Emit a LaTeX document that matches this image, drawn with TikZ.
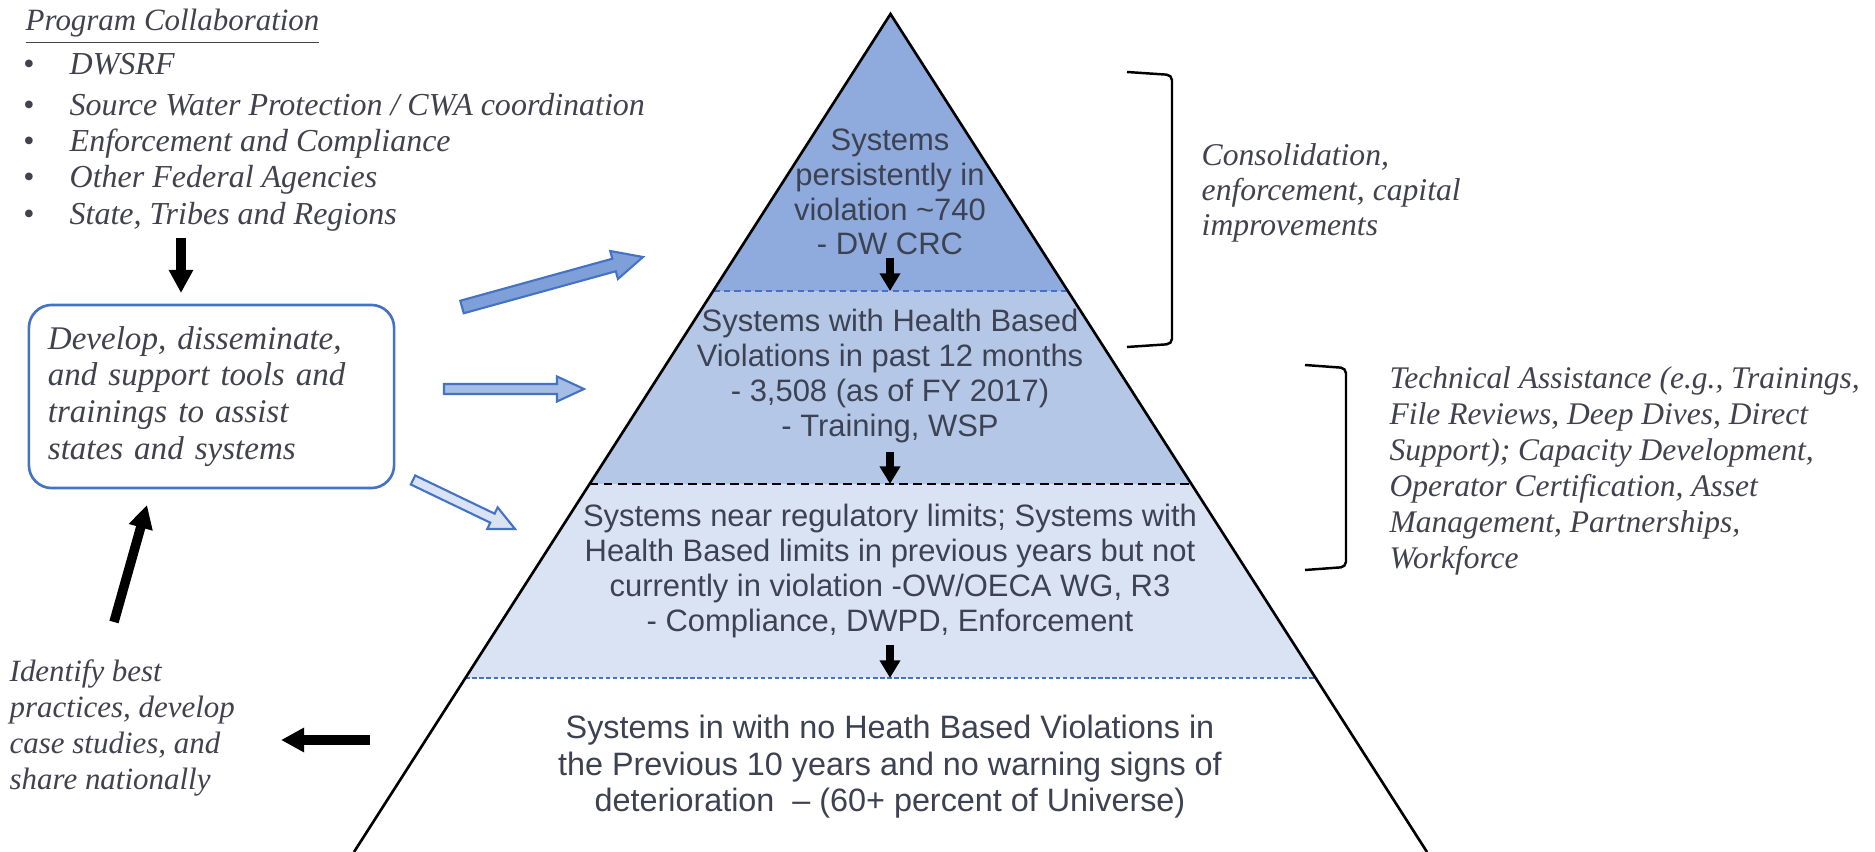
\documentclass[tikz,border=0pt]{standalone}
\usepackage{fontspec}
\usetikzlibrary{arrows.meta,calc}
\newfontfamily\arialf{Liberation Sans}
\newfontfamily\serifit{Liberation Serif}
\definecolor{laya}{RGB}{143,170,220}
\definecolor{layb}{RGB}{180,199,231}
\definecolor{layc}{RGB}{218,227,243}
\definecolor{accblue}{RGB}{68,114,196}
\definecolor{ptxt}{RGB}{61,66,82}
\definecolor{itxt}{RGB}{66,66,78}
\definecolor{arra}{RGB}{127,159,217}
\definecolor{arrb}{RGB}{166,189,230}
\definecolor{arrc}{RGB}{218,227,243}
\newcommand{\blkarr}[6]{%
  \coordinate (#2b) at ($(#3)!#6!(#2)$);
  \draw[#1] ($(#2)!#4!90:(#3)$) -- ($(#2b)!#4!90:(#3)$) -- ($(#2b)!#5!90:(#3)$) -- (#3)
    -- ($(#2b)!#5!-90:(#3)$) -- ($(#2b)!#4!-90:(#3)$) -- ($(#2)!#4!-90:(#3)$) -- cycle;}
\begin{document}
\begin{tikzpicture}[x=0.01cm,y=-0.01cm,
  itx/.style={font=\serifit\fontsize{9.1pt}{10.2pt}\selectfont\itshape, text=itxt, align=left, inner sep=0pt},
  ptx/.style={font=\arialf\fontsize{8.8pt}{9.9pt}\selectfont, text=ptxt, align=center, inner sep=0pt},
  blk/.style={line width=2.7pt, -{Triangle[width=6.6pt,length=6.6pt]}},
  sblk/.style={line width=2.2pt, -{Triangle[width=5.6pt,length=5pt]}},
  pbox/.style={draw=accblue, line width=0.75pt, rounded corners=6.5pt},
  bra/.style={draw=black, line width=0.7pt, rounded corners=1.5pt},
  pyr/.style={draw=black, line width=0.75pt, line join=miter},
  diva/.style={draw=accblue, line width=0.45pt, dash pattern=on 1.8pt off 1.2pt},
  divb/.style={draw=black, line width=0.7pt, dash pattern=on 2.5pt off 1.5pt},
  divc/.style={draw=accblue, line width=0.45pt, dash pattern=on 1.2pt off 0.8pt},
  barra/.style={fill=arra, draw=accblue, line width=0.6pt},
  barrb/.style={fill=arrb, draw=accblue, line width=0.6pt},
  barrc/.style={fill=arrc, draw=accblue, line width=0.6pt}]
\useasboundingbox (0,0) rectangle (1875,852);
\fill[white] (0,0) rectangle (1875,852);

% ---------- pyramid ----------
\coordinate (apex) at (890.5,14);
\coordinate (bl) at (354,852);
\coordinate (br) at (1427,852);
\begin{scope}
  \clip (apex) -- (bl) -- (br) -- cycle;
  \fill[laya] (300,0) rectangle (1500,291);
  \fill[layb] (300,291) rectangle (1500,484);
  \fill[layc] (300,484) rectangle (1500,678);
\end{scope}
\coordinate (d1l) at ($(apex)!0.3305!(bl)$);
\coordinate (d1r) at ($(apex)!0.3305!(br)$);
\coordinate (d2l) at ($(apex)!0.5609!(bl)$);
\coordinate (d2r) at ($(apex)!0.5609!(br)$);
\coordinate (d3l) at ($(apex)!0.7924!(bl)$);
\coordinate (d3r) at ($(apex)!0.7924!(br)$);
\draw[diva] (d1l) -- (d1r);
\draw[divb] (d2l) -- (d2r);
\draw[divc] (d3l) -- (d3r);
\draw[pyr] (bl) -- (apex) -- (br);

\node[ptx] (t1) at (890,192) {Systems\\persistently in\\violation \textasciitilde740\\- DW CRC};
\node[ptx] (t2) at (890,376) {Systems with Health Based\\Violations in past 12 months\\- 3,508 (as of FY 2017)\\- Training, WSP};
\node[ptx] (t3) at (890,571) {Systems near regulatory limits; Systems with\\Health Based limits in previous years but not\\currently in violation -OW/OECA WG, R3\\- Compliance, DWPD, Enforcement};
\node[ptx, font=\arialf\fontsize{9.2pt}{10.35pt}\selectfont] (t4) at (890,767) {Systems in with no Heath Based Violations in\\the Previous 10 years and no warning signs of\\deterioration\ \ – (60+ percent of Universe)};

\coordinate (p1a) at (890,258); \coordinate (p1b) at (890,291);
\coordinate (p2a) at (890,452); \coordinate (p2b) at (890,484);
\coordinate (p3a) at (890,645); \coordinate (p3b) at (890,678);
\draw[sblk] (p1a) -- (p1b);
\draw[sblk] (p2a) -- (p2b);
\draw[sblk] (p3a) -- (p3b);

% ---------- left column ----------
\node[itx, font=\serifit\fontsize{8.8pt}{10.2pt}\selectfont\itshape, anchor=base west] (pc) at (25,31) {\underline{Program Collaboration}};
\foreach \y/\t [count=\i] in {75/{DWSRF},116/{Source Water Protection / CWA coordination},152/{Enforcement and Compliance},188/{Other Federal Agencies},225/{State, Tribes and Regions}}{
  \node[itx, anchor=base] (bu\i) at (29,\y) {\upshape\textbullet};
  \node[itx, anchor=base west] (li\i) at (69,\y) {\t};
}
\node[pbox, text width=3.27cm, minimum width=3.65cm, minimum height=1.83cm, inner sep=0pt,
      font=\serifit\fontsize{9.4pt}{10.5pt}\selectfont\itshape, text=itxt, align=left] (box) at (211.5,396.5)
  {Develop, disseminate,\\and support tools and\\trainings to assist\\states and systems};
\node[itx, font=\serifit\fontsize{8.8pt}{10.2pt}\selectfont\itshape, anchor=west] (ident) at (9,728) {Identify best\\practices, develop\\case studies, and\\share nationally};

\coordinate (da) at (181,238); \coordinate (db) at (181,293);
\coordinate (ua) at (114,622); \coordinate (ub) at (147,505);
\coordinate (la) at (370,740); \coordinate (lb) at (281,740);
\draw[blk] (da) -- (db);
\draw[blk] (ua) -- (ub);
\draw[blk] (la) -- (lb);

% ---------- blue arrows ----------
\coordinate (a1s) at (462,307); \coordinate (a1t) at (643,257);
\coordinate (a2s) at (444,389); \coordinate (a2t) at (584,389);
\coordinate (a3s) at (413,480); \coordinate (a3t) at (515,529);
\blkarr{barra}{a1s}{a1t}{0.065cm}{0.145cm}{0.3cm}
\blkarr{barrb}{a2s}{a2t}{0.05cm}{0.125cm}{0.27cm}
\blkarr{barrc}{a3s}{a3t}{0.05cm}{0.12cm}{0.25cm}

% ---------- right side ----------
\draw[bra] (1127,72) -- (1172,75) -- (1172,344) -- (1127,347);
\draw[bra] (1305,365) -- (1346,368) -- (1346,567) -- (1305,570);
\node[itx, font=\serifit\fontsize{9pt}{9.9pt}\selectfont\itshape, anchor=west] (cons) at (1201,193)
  {Consolidation,\\enforcement, capital\\improvements};
\node[itx, font=\serifit\fontsize{8.95pt}{10.2pt}\selectfont\itshape, anchor=west] (ta) at (1389,471)
  {Technical Assistance (e.g., Trainings,\\File Reviews, Deep Dives, Direct\\Support); Capacity Development,\\Operator Certification, Asset\\Management, Partnerships,\\Workforce};
\end{tikzpicture}
\end{document}
